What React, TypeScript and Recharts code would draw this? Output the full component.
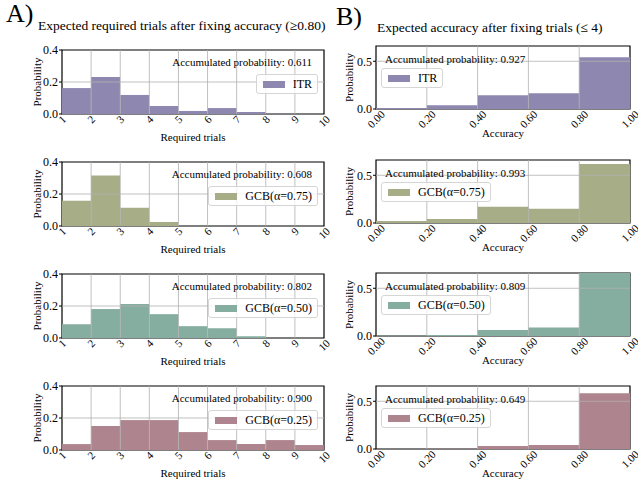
import React from 'react';
import { BarChart, Bar, XAxis, YAxis, ReferenceLine, ReferenceArea, Legend } from 'recharts';

// bins (left edges) and ticks
const trialBins = [1, 2, 3, 4, 5, 6, 7, 8, 9];
const trialTicks = [1, 2, 3, 4, 5, 6, 7, 8, 9, 10];
const trialYTicks = [0, 0.2, 0.4];
const accBins = [0, 0.2, 0.4, 0.6, 0.8];
const accTicks = [0, 0.2, 0.4, 0.6, 0.8, 1.0];
const accYTicks = [0, 0.5];

const methods = ['ITR', 'GCB(α=0.75)', 'GCB(α=0.50)', 'GCB(α=0.25)'];
const colors = ['#8e87b0', '#a7ad86', '#86aea0', '#ae848e'];

// A) required trials after fixing accuracy
const trialsITR = [0.162, 0.231, 0.119, 0.05, 0.019, 0.037, 0.012, 0.002, 0];
const trialsGCB75 = [0.158, 0.316, 0.114, 0.025, 0, 0, 0, 0, 0];
const trialsGCB50 = [0.086, 0.181, 0.213, 0.149, 0.074, 0.061, 0.011, 0, 0];
const trialsGCB25 = [0.037, 0.15, 0.187, 0.187, 0.112, 0.062, 0.037, 0.062, 0.031];
const trialsAccum = [0.611, 0.608, 0.802, 0.9];

// B) accuracy after fixing trials
const accITR = [0.01, 0.038, 0.143, 0.164, 0.542];
const accGCB75 = [0.021, 0.043, 0.17, 0.149, 0.617];
const accGCB50 = [0.002, 0.011, 0.063, 0.088, 0.66];
const accGCB25 = [0, 0.002, 0.031, 0.042, 0.583];
const accAccum = [0.927, 0.993, 0.809, 0.649];

const trialSeries = [trialsITR, trialsGCB75, trialsGCB50, trialsGCB25];
const accSeries = [accITR, accGCB75, accGCB50, accGCB25];

const FONT = '"Liberation Serif", "Times New Roman", serif';
const MT = 10;
const XH = 28;

const LEFT = { x: 0, width: 340, yAxisW: 62, right: 16, plotH: 64, tops: [50, 162, 274, 386] };
const RIGHT = { x: 330, width: 308, yAxisW: 46, right: 8, plotH: 63, tops: [46, 160, 273, 386] };

const textWidth = (s: string, fs: number) =>
  s.split('').reduce((w, c) => w + (c === '.' ? 0.25 : 0.5), 0) * fs;

// rotated tick label, centred under the tick like matplotlib's rotation=45
const RotTick = (props: any) => {
  const { x, y, payload, fmt } = props;
  const label = fmt(payload.value);
  const fs = 11;
  const cy = y - 2.5 + (textWidth(label, fs) + 0.7 * fs) * 0.354;
  return (
    <text
      x={x}
      y={cy}
      textAnchor="middle"
      dominantBaseline="central"
      transform={`rotate(-45 ${x} ${cy})`}
      fontSize={fs}
      fontFamily={FONT}
      fill="#000"
    >
      {label}
    </text>
  );
};

const LegendBox = (props: any) => {
  const item = props.payload && props.payload[0];
  if (!item) return null;
  return (
    <div
      style={{
        display: 'flex',
        alignItems: 'center',
        background: 'rgba(255,255,255,0.8)',
        border: '1px solid #d5d5d5',
        borderRadius: 3,
        padding: '2px 5px 2px 6px',
        fontFamily: FONT,
        fontSize: 12,
        lineHeight: '14px',
        color: '#000',
        whiteSpace: 'nowrap',
      }}
    >
      <span style={{ display: 'inline-block', width: 22, height: 7, background: item.color, marginRight: 8 }} />
      <span>{item.value}</span>
    </div>
  );
};

type PanelProps = {
  layout: typeof LEFT;
  top: number;
  bins: number[];
  ticks: number[];
  yTicks: number[];
  yMax: number;
  values: number[];
  color: string;
  name: string;
  xFmt: (v: number) => string;
  legendStyle: React.CSSProperties;
};

const Panel = ({ layout, top, bins, ticks, yTicks, yMax, values, color, name, xFmt, legendStyle }: PanelProps) => {
  const step = ticks[1] - ticks[0];
  const data = bins.map((b, i) => ({ x: b + step / 2, p: values[i] }));
  const x0 = ticks[0];
  const x1 = ticks[ticks.length - 1];
  const h = MT + layout.plotH + XH;
  return (
    <div style={{ position: 'absolute', left: layout.x, top: top - MT, width: layout.width, height: h }}>
      <BarChart
        width={layout.width}
        height={h}
        data={data}
        margin={{ top: MT, right: layout.right, left: 0, bottom: 0 }}
        barCategoryGap={0}
        barGap={0}
      >
        <XAxis
          type="number"
          dataKey="x"
          domain={[x0, x1]}
          ticks={ticks}
          interval={0}
          height={XH}
          tickLine={false}
          axisLine={false}
          tickMargin={0}
          tickSize={3}
          tick={<RotTick fmt={xFmt} />}
        />
        <YAxis
          type="number"
          domain={[0, yMax]}
          ticks={yTicks}
          interval={0}
          width={layout.yAxisW}
          axisLine={false}
          tickSize={3}
          tickMargin={1}
          tickLine={{ stroke: '#000' }}
          tickFormatter={(v: number) => v.toFixed(1)}
          tick={{ fontSize: 12, fill: '#000', fontFamily: FONT }}
        />
        <Bar dataKey="p" name={name} fill={color} isAnimationActive={false} />
        {ticks.slice(1, -1).map((t) => (
          <ReferenceLine key={'v' + t} x={t} stroke="#b0b0b0" strokeOpacity={0.8} />
        ))}
        {yTicks
          .filter((t) => t > 0 && t < yMax)
          .map((t) => (
            <ReferenceLine key={'h' + t} y={t} stroke="#b0b0b0" strokeOpacity={0.8} />
          ))}
        <ReferenceArea x1={x0} x2={x1} y1={0} y2={yMax} fill="none" stroke="#000" strokeWidth={1.2} />
        <Legend
          verticalAlign="middle"
          layout="horizontal"
          content={<LegendBox />}
          wrapperStyle={{ width: 'auto', ...legendStyle }}
        />
      </BarChart>
    </div>
  );
};

export default function App() {
  const lPlotL = LEFT.x + LEFT.yAxisW;
  const lPlotR = LEFT.x + LEFT.width - LEFT.right;
  const rPlotL = RIGHT.x + RIGHT.yAxisW;
  const rPlotR = RIGHT.x + RIGHT.width - RIGHT.right;
  return (
    <div style={{ position: 'absolute', left: 0, top: 0, width: 638, height: 489, background: '#fff', overflow: 'hidden' }}>
      {methods.map((m, i) => (
        <Panel
          key={'a' + i}
          layout={LEFT}
          top={LEFT.tops[i]}
          bins={trialBins}
          ticks={trialTicks}
          yTicks={trialYTicks}
          yMax={0.4}
          values={trialSeries[i]}
          color={colors[i]}
          name={m}
          xFmt={(v) => String(v)}
          legendStyle={{ right: 22, left: 'auto', top: MT + 24, bottom: 'auto' }}
        />
      ))}
      {methods.map((m, i) => (
        <Panel
          key={'b' + i}
          layout={RIGHT}
          top={RIGHT.tops[i]}
          bins={accBins}
          ticks={accTicks}
          yTicks={accYTicks}
          yMax={0.66}
          values={accSeries[i]}
          color={colors[i]}
          name={m}
          xFmt={(v) => v.toFixed(2)}
          legendStyle={{ left: 51, right: 'auto', top: MT + 22, bottom: 'auto' }}
        />
      ))}
      <svg
        width={638}
        height={489}
        style={{ position: 'absolute', left: 0, top: 0, pointerEvents: 'none' }}
        fontFamily={FONT}
        fill="#000"
      >
        <text x={6} y={21.5} fontSize={26}>A)</text>
        <text x={38} y={29.5} fontSize={13.5}>Expected required trials after fixing accuracy (≥0.80)</text>
        <text x={336} y={25} fontSize={26}>B)</text>
        <text x={377} y={31.5} fontSize={13.5}>Expected accuracy after fixing trials (≤ 4)</text>
        {LEFT.tops.map((t, i) => {
          const cy = t + LEFT.plotH / 2;
          return (
            <g key={'la' + i}>
              <text x={37} y={cy} fontSize={11} textAnchor="middle" dominantBaseline="central" transform={`rotate(-90 37 ${cy})`}>
                Probability
              </text>
              <text x={(lPlotL + lPlotR) / 2} y={t + LEFT.plotH + 27} fontSize={11} textAnchor="middle">
                Required trials
              </text>
              <text x={lPlotR - 12} y={t + 15.5} fontSize={11} textAnchor="end">
                Accumulated probability: {trialsAccum[i].toFixed(3)}
              </text>
            </g>
          );
        })}
        {RIGHT.tops.map((t, i) => {
          const cy = t + RIGHT.plotH / 2;
          return (
            <g key={'lb' + i}>
              <text x={349} y={cy} fontSize={11} textAnchor="middle" dominantBaseline="central" transform={`rotate(-90 349 ${cy})`}>
                Probability
              </text>
              <text x={(rPlotL + rPlotR) / 2} y={t + RIGHT.plotH + 28} fontSize={11} textAnchor="middle">
                Accuracy
              </text>
              <text x={rPlotL + 9} y={t + 17} fontSize={11}>
                Accumulated probability: {accAccum[i].toFixed(3)}
              </text>
            </g>
          );
        })}
      </svg>
    </div>
  );
}
